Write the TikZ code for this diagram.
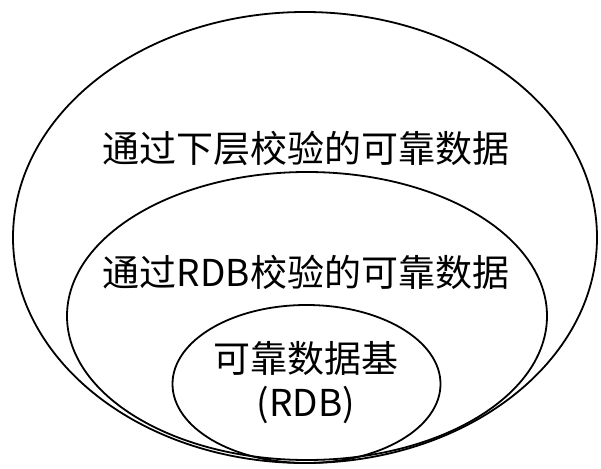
\documentclass[tikz,border=0pt]{standalone}
\usepackage{fontspec}
\setmainfont{Noto Sans CJK SC}
\usetikzlibrary{positioning}

\tikzset{label text/.style={font=\fontsize{37}{44}\selectfont, inner sep=0pt, align=center}}

\begin{document}
\begin{tikzpicture}[x=1pt, y=-1pt, line width=1.8pt]
	\useasboundingbox (0,0) rectangle (601,468);
	\coordinate (outer) at (305,237.5);
	\coordinate (middle) at (307,316);
	\coordinate (inner) at (306.5,384);
	
	\draw (outer) ellipse [x radius=292, y radius=225.5];
	\draw (middle) ellipse [x radius=240, y radius=144];
	\draw (inner) ellipse [x radius=134, y radius=79];
	
	\node[label text] (lower) at (306,148) {通过下层校验的可靠数据};
	\node[label text] (rdbcheck) at (306,272) {通过RDB校验的可靠数据};
	\node[label text] (rdb) at (306,383) {可靠数据基\\(RDB)};
\end{tikzpicture}
\end{document}
